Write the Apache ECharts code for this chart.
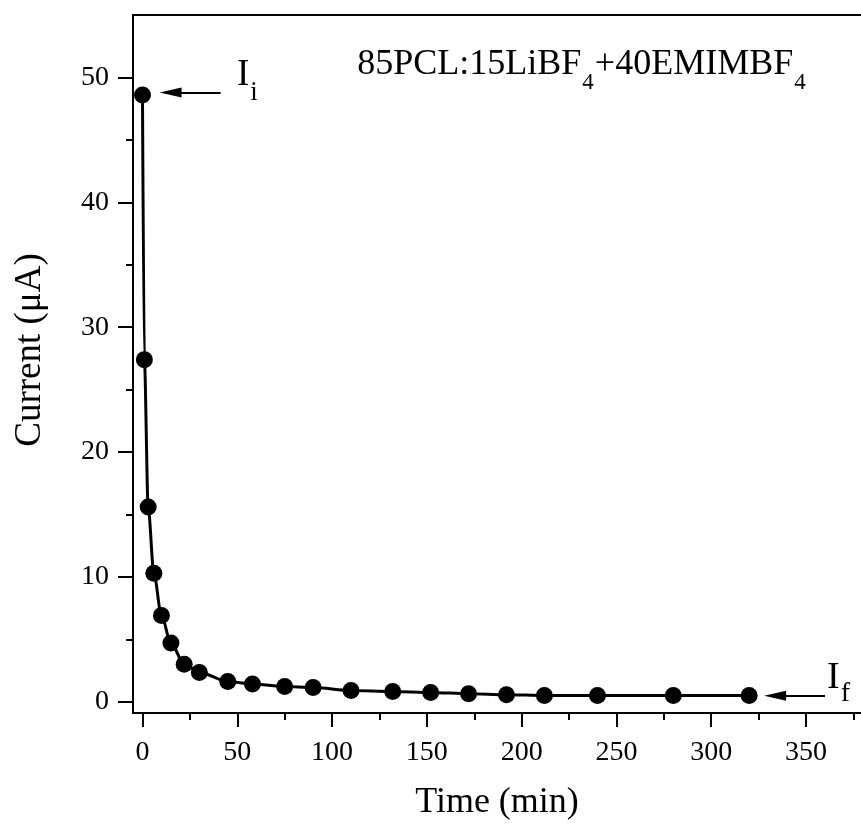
<!DOCTYPE html>
<html>
<head>
<meta charset="utf-8">
<script src="https://cdn.jsdelivr.net/npm/echarts@6/dist/echarts.min.js"></script>
<style>
html,body{margin:0;padding:0;background:#fff;}
#chart{width:861px;height:836px;}
</style>
</head>
<body>
<div id="chart"></div>
<script>
// ---- data ----
var times = [0, 1, 3, 6, 10, 15, 22, 30, 45, 58, 75, 90, 110, 132, 152, 172, 192, 212, 240, 280, 320];
var current = [48.6, 27.4, 15.6, 10.3, 6.9, 4.7, 3.0, 2.35, 1.63, 1.42, 1.23, 1.15, 0.91, 0.83, 0.75, 0.64, 0.56, 0.51, 0.51, 0.51, 0.51];
var xTicks = [0, 50, 100, 150, 200, 250, 300, 350];
var xMinorTicks = [25, 75, 125, 175, 225, 275, 325, 375];
var yTicks = [0, 10, 20, 30, 40, 50];
var yMinorTicks = [5, 15, 25, 35, 45];
var xTitle = 'Time (min)';
var yTitle = 'Current (\u03bcA)';
// annotation arrows: [tail, head] in data units
var arrowI = [[41.2, 48.8], [14.8, 48.8]];
var arrowF = [[360, 0.48], [333.7, 0.48]];

var FONT = "'Liberation Serif','Times New Roman',serif";
var points = times.map(function (t, i) { return [t, current[i]]; });

var chart = echarts.init(document.getElementById('chart'), null, {renderer: 'canvas'});
var axisLineStyle = {color: '#000', width: 2};

var option = {
  animation: false,
  backgroundColor: '#fff',
  grid: {left: 133, right: 0, top: 15, bottom: 123, containLabel: false},
  xAxis: [
    {
      type: 'value', min: -5, max: 379, position: 'bottom',
      axisLine: {show: true, onZero: false, lineStyle: axisLineStyle},
      axisTick: {show: true, customValues: xTicks, length: 14, inside: false, lineStyle: {color: '#000', width: 2}},
      axisLabel: {show: true, customValues: xTicks, fontSize: 28, color: '#000', fontFamily: FONT, margin: 26},
      splitLine: {show: false}
    },
    {
      type: 'value', min: -5, max: 379, position: 'bottom',
      axisLine: {show: false, onZero: false},
      axisTick: {show: true, customValues: xMinorTicks, length: 7, inside: false, lineStyle: {color: '#000', width: 2}},
      axisLabel: {show: false},
      splitLine: {show: false}
    },
    {
      type: 'value', min: -5, max: 379, position: 'top',
      axisLine: {show: true, onZero: false, lineStyle: axisLineStyle},
      axisTick: {show: false},
      axisLabel: {show: false},
      splitLine: {show: false}
    }
  ],
  yAxis: [
    {
      type: 'value', min: -0.9, max: 55, position: 'left',
      axisLine: {show: true, onZero: false, lineStyle: axisLineStyle},
      axisTick: {show: true, customValues: yTicks, length: 15, inside: false, lineStyle: {color: '#000', width: 2}},
      axisLabel: {show: true, customValues: yTicks, fontSize: 28, color: '#000', fontFamily: FONT, margin: 24},
      splitLine: {show: false}
    },
    {
      type: 'value', min: -0.9, max: 55, position: 'left',
      axisLine: {show: false, onZero: false},
      axisTick: {show: true, customValues: yMinorTicks, length: 7, inside: false, lineStyle: {color: '#000', width: 2}},
      axisLabel: {show: false},
      splitLine: {show: false}
    }
  ],
  series: [
    {
      type: 'line',
      xAxisIndex: 0, yAxisIndex: 0,
      data: points,
      smooth: 0.3,
      smoothMonotone: 'x',
      symbol: 'circle',
      symbolSize: 17,
      itemStyle: {color: '#000'},
      lineStyle: {color: '#000', width: 3},
      markLine: {
        silent: true,
        symbol: ['none', 'triangle'],
        symbolSize: [10, 22],
        lineStyle: {color: '#000', width: 2, type: 'solid'},
        label: {show: false},
        emphasis: {disabled: true},
        data: [
          [{coord: arrowI[0]}, {coord: arrowI[1]}],
          [{coord: arrowF[0]}, {coord: arrowF[1]}]
        ]
      }
    }
  ],
  graphic: [
    {
      type: 'text', x: 497, y: 803,
      style: {text: xTitle, font: '36px ' + FONT, fill: '#000', align: 'center', verticalAlign: 'middle'}
    },
    {
      type: 'text', x: 30, y: 350, rotation: Math.PI / 2,
      style: {text: yTitle, font: '37px ' + FONT, fill: '#000', align: 'center', verticalAlign: 'middle'}
    },
    {
      type: 'text', x: 582, y: 47,
      style: {
        text: '{m|85PCL:15LiBF}{s|4}{m|+40EMIMBF}{s|4}',
        align: 'center', verticalAlign: 'top', fill: '#000',
        rich: {
          m: {fontSize: 36, lineHeight: 36, verticalAlign: 'top', fontFamily: FONT, fill: '#000'},
          s: {fontSize: 23, lineHeight: 23, verticalAlign: 'top', fontFamily: FONT, fill: '#000', padding: [24, 1, 0, 1]}
        }
      }
    },
    {
      type: 'text', x: 237, y: 57,
      style: {
        text: '{m|I}{s|i}',
        align: 'left', verticalAlign: 'top', fill: '#000',
        rich: {
          m: {fontSize: 37, lineHeight: 37, verticalAlign: 'top', fontFamily: FONT, fill: '#000'},
          s: {fontSize: 27, lineHeight: 27, verticalAlign: 'top', fontFamily: FONT, fill: '#000', padding: [22, 0, 0, 1]}
        }
      }
    },
    {
      type: 'text', x: 827, y: 659,
      style: {
        text: '{m|I}{s|f}',
        align: 'left', verticalAlign: 'top', fill: '#000',
        rich: {
          m: {fontSize: 38, lineHeight: 38, verticalAlign: 'top', fontFamily: FONT, fill: '#000'},
          s: {fontSize: 28, lineHeight: 28, verticalAlign: 'top', fontFamily: FONT, fill: '#000', padding: [21, 0, 0, 1]}
        }
      }
    }
  ]
};

chart.setOption(option);
</script>
</body>
</html>
